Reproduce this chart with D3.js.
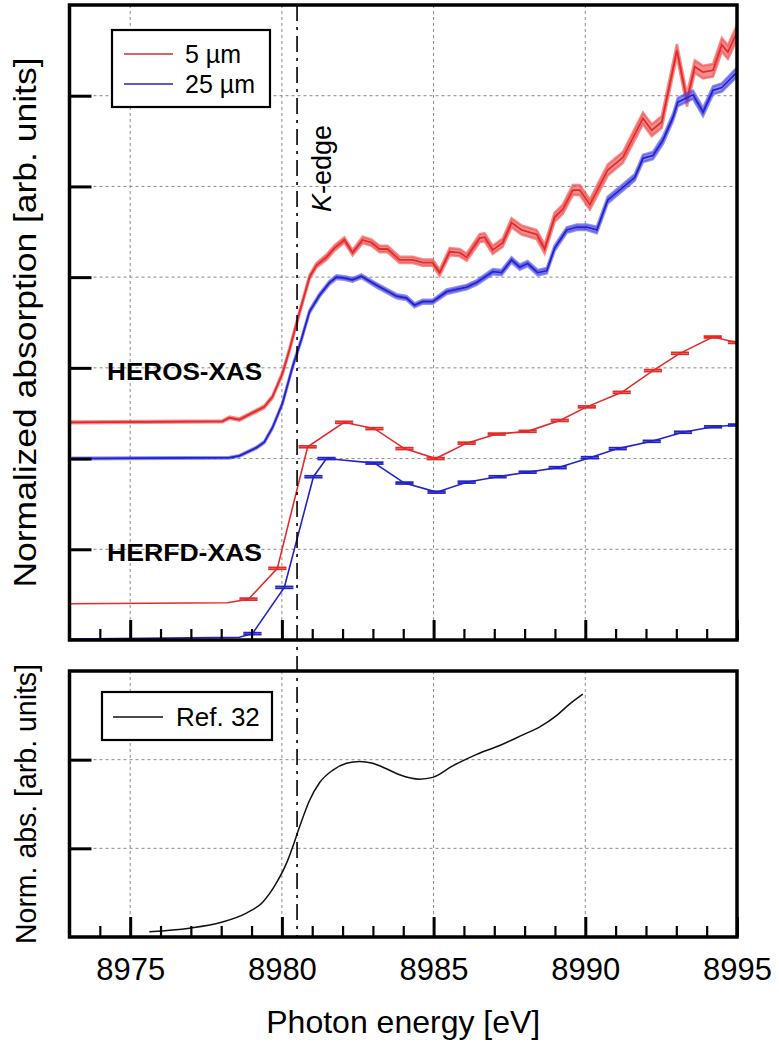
<!DOCTYPE html>
<html>
<head>
<meta charset="utf-8">
<script src="https://cdn.jsdelivr.net/npm/d3@7"></script>
<style>
  body { margin: 0; background: #fff; }
  svg { font-family: "Liberation Sans", Arial, sans-serif; }
</style>
</head>
<body>
<svg id="chart" width="779" height="1047"></svg>
<script>
// --- data: [energy eV, absorption, uncertainty] ---
const herosThin = [
  [8973.0, 2.40, 0.010], [8978.04, 2.41, 0.010], [8978.27, 2.45, 0.012], [8978.60, 2.43, 0.012],
  [8979.42, 2.57, 0.015], [8979.69, 2.68, 0.015], [8980.02, 2.94, 0.018], [8980.25, 3.20, 0.02],
  [8980.58, 3.61, 0.02], [8980.91, 4.00, 0.025], [8981.14, 4.13, 0.025], [8981.47, 4.22, 0.03],
  [8981.73, 4.32, 0.03], [8982.06, 4.41, 0.03], [8982.33, 4.27, 0.03], [8982.66, 4.41, 0.035],
  [8982.95, 4.38, 0.035], [8983.22, 4.31, 0.035], [8983.48, 4.31, 0.035], [8983.88, 4.19, 0.035],
  [8984.31, 4.19, 0.035], [8984.64, 4.16, 0.035], [8984.97, 4.16, 0.035], [8985.20, 4.05, 0.035],
  [8985.53, 4.28, 0.04], [8985.86, 4.27, 0.04], [8986.09, 4.22, 0.04], [8986.52, 4.43, 0.045],
  [8986.68, 4.44, 0.045], [8986.95, 4.30, 0.045], [8987.28, 4.38, 0.045], [8987.57, 4.60, 0.05],
  [8987.90, 4.52, 0.05], [8988.40, 4.47, 0.05], [8988.66, 4.31, 0.05], [8988.99, 4.66, 0.05],
  [8989.26, 4.75, 0.05], [8989.59, 4.96, 0.055], [8989.82, 4.96, 0.055], [8990.15, 4.80, 0.055],
  [8990.74, 5.18, 0.06], [8991.24, 5.32, 0.06], [8991.90, 5.75, 0.065], [8992.19, 5.62, 0.065],
  [8992.52, 5.71, 0.065], [8993.02, 6.50, 0.07], [8993.35, 5.95, 0.07], [8993.61, 6.32, 0.07],
  [8993.88, 6.26, 0.07], [8994.21, 6.28, 0.07], [8994.50, 6.56, 0.075], [8994.70, 6.48, 0.075],
  [8995.0, 6.70, 0.08],
];

const herosThick = [
  [8973.0, 2.00, 0.008], [8978.27, 2.01, 0.008], [8978.60, 2.03, 0.008], [8979.16, 2.12, 0.01],
  [8979.42, 2.18, 0.01], [8979.69, 2.34, 0.012], [8980.02, 2.61, 0.012], [8980.35, 3.01, 0.015],
  [8980.64, 3.31, 0.015], [8980.91, 3.62, 0.018], [8981.24, 3.80, 0.02], [8981.57, 3.94, 0.02],
  [8981.80, 4.00, 0.02], [8982.06, 3.99, 0.02], [8982.33, 3.97, 0.02], [8982.62, 4.01, 0.02],
  [8983.12, 3.91, 0.022], [8983.78, 3.79, 0.022], [8984.11, 3.77, 0.022], [8984.37, 3.69, 0.022],
  [8984.64, 3.73, 0.022], [8984.97, 3.73, 0.022], [8985.43, 3.84, 0.025], [8986.09, 3.89, 0.025],
  [8986.42, 3.94, 0.025], [8986.95, 4.06, 0.028], [8987.24, 4.05, 0.028], [8987.57, 4.19, 0.028],
  [8987.84, 4.11, 0.028], [8988.10, 4.15, 0.028], [8988.43, 4.05, 0.03], [8988.73, 4.07, 0.03],
  [8988.99, 4.32, 0.03], [8989.39, 4.52, 0.03], [8989.72, 4.55, 0.03], [8990.05, 4.55, 0.03],
  [8990.38, 4.52, 0.035], [8990.74, 4.85, 0.035], [8991.24, 4.99, 0.035], [8991.63, 5.10, 0.035],
  [8991.90, 5.31, 0.04], [8992.23, 5.34, 0.04], [8992.56, 5.51, 0.04], [8992.89, 5.76, 0.04],
  [8993.05, 5.93, 0.045], [8993.55, 6.01, 0.045], [8993.88, 5.82, 0.045], [8994.21, 6.06, 0.045],
  [8994.50, 6.09, 0.045], [8995.0, 6.26, 0.05],
];

// HERFD points; uncertainty 0 = no error bar drawn
const herfdThin = [
  [8973.0, 0.40, 0], [8978.2, 0.41, 0], [8978.9, 0.45, 0.01], [8979.85, 0.79, 0.01],
  [8980.85, 2.13, 0.01], [8982.05, 2.40, 0.01], [8983.05, 2.33, 0.01], [8984.04, 2.11, 0.01],
  [8985.07, 2.00, 0.01], [8986.09, 2.17, 0.01], [8987.08, 2.27, 0.01], [8988.10, 2.30, 0.01],
  [8989.16, 2.42, 0.01], [8990.05, 2.57, 0.01], [8991.20, 2.73, 0.01], [8992.23, 2.97, 0.01],
  [8993.12, 3.16, 0.01], [8994.20, 3.34, 0.01], [8995.0, 3.28, 0.01],
];

const herfdThick = [
  [8973.0, 0.01, 0], [8978.6, 0.03, 0], [8979.03, 0.07, 0.01], [8980.08, 0.58, 0.01],
  [8981.04, 1.80, 0.01], [8981.47, 2.00, 0.01], [8983.05, 1.95, 0.01], [8984.04, 1.73, 0.01],
  [8985.10, 1.63, 0.01], [8986.09, 1.74, 0.01], [8987.11, 1.80, 0.01], [8988.10, 1.85, 0.01],
  [8989.09, 1.90, 0.01], [8990.15, 2.01, 0.01], [8991.07, 2.11, 0.01], [8992.19, 2.19, 0.01],
  [8993.22, 2.29, 0.01], [8994.21, 2.35, 0.01], [8995.0, 2.37, 0.01],
];

const reference = [
  [8975.63, 0.06], [8976.95, 0.10], [8978.04, 0.17], [8978.83, 0.27], [8979.36, 0.39],
  [8979.82, 0.61], [8980.15, 0.83], [8980.35, 1.01], [8980.58, 1.24], [8980.91, 1.54],
  [8981.24, 1.74], [8981.67, 1.88], [8982.13, 1.96], [8982.56, 1.98], [8982.99, 1.96],
  [8983.55, 1.88], [8983.88, 1.83], [8984.54, 1.78], [8984.97, 1.80], [8985.63, 1.93],
  [8986.42, 2.06], [8987.18, 2.16], [8987.94, 2.28], [8988.50, 2.37], [8989.06, 2.50],
  [8989.49, 2.63], [8989.92, 2.74],
];

const xMajorTicks = [8975, 8980, 8985, 8990, 8995];
const xMinorTicks = [8974, 8976, 8977, 8978, 8979, 8981, 8982, 8983, 8984,
                     8986, 8987, 8988, 8989, 8991, 8992, 8993, 8994];
const yTicksTop = [1, 2, 3, 4, 5, 6];
const yTicksBottom = [1, 2];
const legendTop = ["5 µm", "25 µm"];
const legendBottom = ["Ref. 32"];
const kEdge = 8980.5;

// --- layout ---
const RED = "#e32b2b", RED_BAND = "rgba(240,80,80,0.65)";
const BLUE = "#2323c8", BLUE_BAND = "rgba(70,70,235,0.6)";
const GRID = "#8a8a8a";

const svg = d3.select("#chart");
const x = d3.scaleLinear().domain([8973, 8995]).range([69.5, 737]);
const yTop = d3.scaleLinear().domain([0, 7]).range([640, 5]);
const yBot = d3.scaleLinear().domain([0, 3]).range([937, 671]);

function panel(id, y, yTicks) {
  const [y1, y0] = y.range();
  const g = svg.append("g").attr("id", id);

  g.append("clipPath").attr("id", id + "-clip")
    .append("rect")
    .attr("x", x.range()[0]).attr("y", y0)
    .attr("width", x.range()[1] - x.range()[0]).attr("height", y1 - y0);

  // grid
  g.append("g").selectAll("line").data(yTicks).join("line")
    .attr("x1", x.range()[0]).attr("x2", x.range()[1])
    .attr("y1", d => y(d)).attr("y2", d => y(d))
    .attr("stroke", GRID).attr("stroke-width", 1).attr("stroke-dasharray", "3,3");
  g.append("g").selectAll("line").data(xMajorTicks.slice(0, -1)).join("line")
    .attr("x1", d => x(d)).attr("x2", d => x(d))
    .attr("y1", y0).attr("y2", y1)
    .attr("stroke", GRID).attr("stroke-width", 1).attr("stroke-dasharray", "3,3");

  const plot = g.append("g").attr("clip-path", `url(#${id}-clip)`);
  return { g, plot, y0, y1 };
}

function frame(p, y, yTicks, labels) {
  const { g, y0, y1 } = p;
  const major = g.append("g")
    .attr("transform", `translate(0,${y1})`)
    .call(d3.axisBottom(x).tickValues(xMajorTicks).tickSize(-20).tickPadding(21)
      .tickFormat(labels ? d3.format("d") : () => ""));
  const minor = g.append("g")
    .attr("transform", `translate(0,${y1})`)
    .call(d3.axisBottom(x).tickValues(xMinorTicks).tickSize(-11).tickFormat(() => ""));
  const left = g.append("g")
    .attr("transform", `translate(${x.range()[0]},0)`)
    .call(d3.axisLeft(y).tickValues(yTicks).tickSize(-22).tickFormat(() => ""));

  [major, minor, left].forEach(a => a.select(".domain").remove());
  major.selectAll(".tick line").attr("stroke", "#000").attr("stroke-width", 3);
  minor.selectAll(".tick line").attr("stroke", "#000").attr("stroke-width", 2.2);
  left.selectAll(".tick line").attr("stroke", "#000").attr("stroke-width", 3);
  major.selectAll(".tick text")
    .attr("fill", "#000").attr("font-size", 31)
    .attr("font-family", '"Liberation Sans", Arial, sans-serif');

  g.append("rect")
    .attr("x", x.range()[0]).attr("y", y0)
    .attr("width", x.range()[1] - x.range()[0]).attr("height", y1 - y0)
    .attr("fill", "none").attr("stroke", "#000").attr("stroke-width", 3.5);
}

function heros(plot, y, data, col, band) {
  plot.append("path").datum(data)
    .attr("d", d3.area().x(d => x(d[0])).y0(d => y(d[1] - d[2])).y1(d => y(d[1] + d[2])))
    .attr("fill", band).attr("stroke", band).attr("stroke-width", 2.5);
  plot.append("path").datum(data)
    .attr("d", d3.line().x(d => x(d[0])).y(d => y(d[1])))
    .attr("fill", "none").attr("stroke", col).attr("stroke-width", 1.8);
}

function herfd(plot, y, data, col) {
  plot.append("path").datum(data)
    .attr("d", d3.line().x(d => x(d[0])).y(d => y(d[1])))
    .attr("fill", "none").attr("stroke", col).attr("stroke-width", 1.6);
  const bars = plot.append("g").selectAll("g").data(data.filter(d => d[2] > 0)).join("g");
  [-1, 1].forEach(s => bars.append("line")
    .attr("x1", d => x(d[0] - 0.3)).attr("x2", d => x(d[0] + 0.3))
    .attr("y1", d => y(d[1] + s * d[2])).attr("y2", d => y(d[1] + s * d[2]))
    .attr("stroke", col).attr("stroke-width", 1.8));
}

// --- top panel ---
const upper = panel("upper", yTop, yTicksTop);
heros(upper.plot, yTop, herosThin, RED, RED_BAND);
heros(upper.plot, yTop, herosThick, BLUE, BLUE_BAND);
herfd(upper.plot, yTop, herfdThin, RED);
herfd(upper.plot, yTop, herfdThick, BLUE);

upper.g.append("text").text("HEROS-XAS")
  .attr("x", x(8974.24)).attr("y", yTop(2.87))
  .attr("font-size", 24).attr("font-weight", "bold").attr("textLength", 155)
  .attr("lengthAdjust", "spacingAndGlyphs");
upper.g.append("text").text("HERFD-XAS")
  .attr("x", x(8974.24)).attr("y", yTop(0.87))
  .attr("font-size", 24).attr("font-weight", "bold").attr("textLength", 155)
  .attr("lengthAdjust", "spacingAndGlyphs");

// legend
const lg = upper.g.append("g").attr("transform", "translate(112,30)");
lg.append("rect").attr("width", 158).attr("height", 77)
  .attr("fill", "#fff").attr("stroke", "#000").attr("stroke-width", 2.2);
lg.selectAll("line").data(legendTop).join("line")
  .attr("x1", 12).attr("x2", 61)
  .attr("y1", (d, i) => 24 + i * 30).attr("y2", (d, i) => 24 + i * 30)
  .attr("stroke", (d, i) => i ? BLUE : "#cc3333").attr("stroke-width", 1.5);
lg.selectAll("text").data(legendTop).join("text")
  .text(d => d)
  .attr("x", 73).attr("y", (d, i) => 33 + i * 30)
  .attr("font-size", 25);

// K-edge label
upper.g.append("text")
  .attr("transform", `translate(331,212) rotate(-90)`)
  .attr("font-size", 27)
  .call(t => {
    t.append("tspan").attr("font-style", "italic").text("K");
    t.append("tspan").text("-edge");
  });

frame(upper, yTop, yTicksTop, false);

// --- bottom panel ---
const lower = panel("lower", yBot, yTicksBottom);
lower.plot.append("path").datum(reference)
  .attr("d", d3.line().x(d => x(d[0])).y(d => yBot(d[1])).curve(d3.curveMonotoneX))
  .attr("fill", "none").attr("stroke", "#111").attr("stroke-width", 1.5);

const lb = lower.g.append("g").attr("transform", "translate(102,692)");
lb.append("rect").attr("width", 170).attr("height", 48)
  .attr("fill", "#fff").attr("stroke", "#000").attr("stroke-width", 2.2);
lb.append("line").attr("x1", 11).attr("x2", 61).attr("y1", 25).attr("y2", 25)
  .attr("stroke", "#111").attr("stroke-width", 1.5);
lb.append("text").text(legendBottom[0]).attr("x", 74).attr("y", 34).attr("font-size", 26);

frame(lower, yBot, yTicksBottom, true);

// K-edge marker across both panels
svg.append("line")
  .attr("x1", x(kEdge)).attr("x2", x(kEdge))
  .attr("y1", yTop(7)).attr("y2", yBot(0))
  .attr("stroke", "#000").attr("stroke-width", 1.6).attr("stroke-dasharray", "16,6,3,6");

// axis titles
svg.append("text").text("Photon energy [eV]")
  .attr("x", (x.range()[0] + x.range()[1]) / 2).attr("y", 1033)
  .attr("text-anchor", "middle").attr("font-size", 32);
svg.append("text").text("Normalized absorption [arb. units]")
  .attr("transform", `translate(36,${(yTop(0) + yTop(7)) / 2}) rotate(-90)`)
  .attr("text-anchor", "middle").attr("font-size", 31)
  .attr("textLength", 530).attr("lengthAdjust", "spacingAndGlyphs");
svg.append("text").text("Norm. abs. [arb. units]")
  .attr("transform", `translate(36,${(yBot(0) + yBot(3)) / 2}) rotate(-90)`)
  .attr("text-anchor", "middle").attr("font-size", 30)
  .attr("textLength", 280).attr("lengthAdjust", "spacingAndGlyphs");
</script>
</body>
</html>
